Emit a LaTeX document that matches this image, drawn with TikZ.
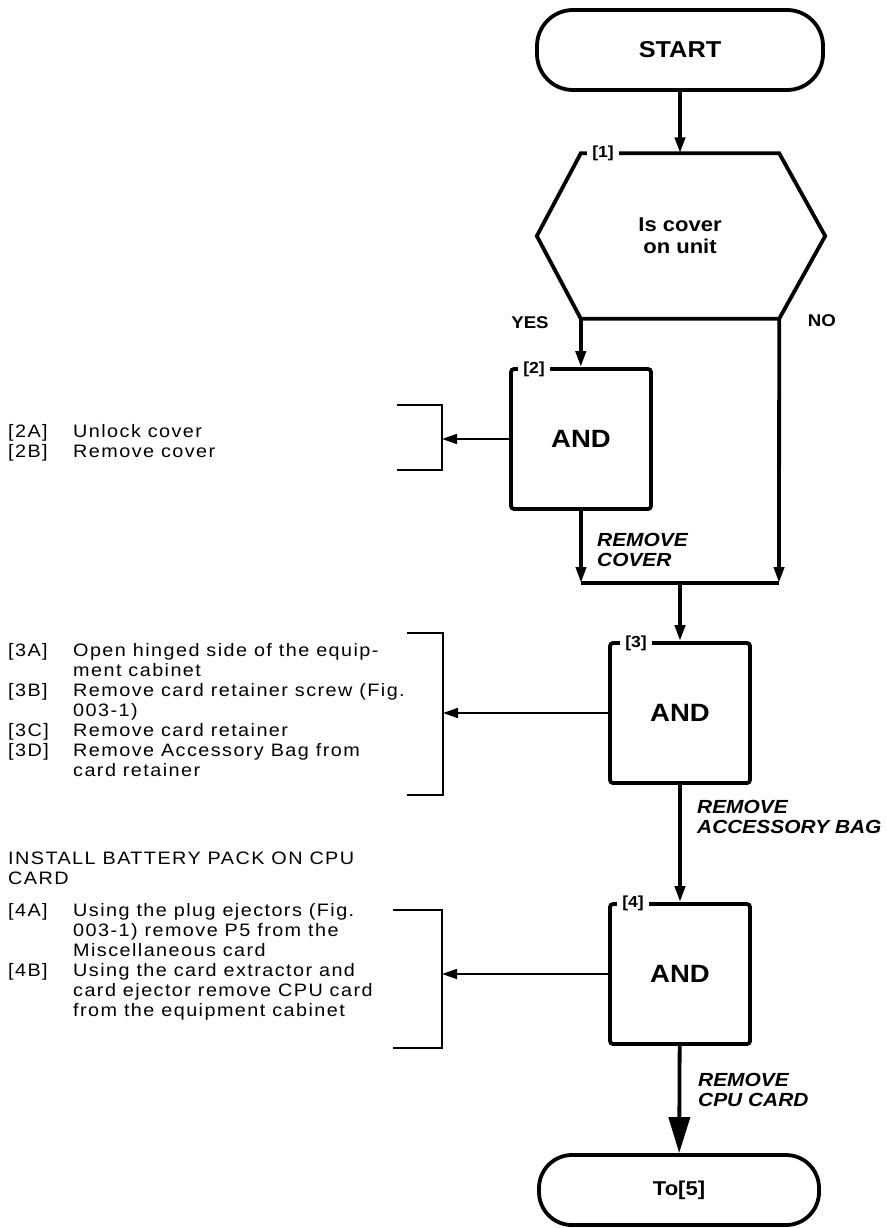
\documentclass[tikz,border=0pt]{standalone}
\usepackage{fontspec}
\setmainfont{Liberation Sans}[FakeStretch=1.1]
\newfontfamily\descfont{Liberation Sans}[FakeStretch=1.1,LetterSpace=8]
\usetikzlibrary{arrows.meta}

\newcommand\tagrow[2]{\makebox[65pt][l]{#1}#2}
\newcommand\controw[1]{\hspace*{65pt}#1}

\begin{document}
\begin{tikzpicture}[x=1pt, y=-1pt,
    flow/.style={line width=3.8pt, -{Triangle[length=16pt, width=10pt]}},
    bigflow/.style={line width=3.8pt, -{Triangle[length=36pt, width=21pt]}},
    side/.style={line width=1.7pt},
    sidearrow/.style={line width=1.7pt, -{Triangle[length=15pt, width=10pt]}},
    andbox/.style={draw, line width=3.8pt, rounded corners=3pt,
        minimum width=140pt, minimum height=140pt,
        font=\bfseries\fontsize{25}{28}\selectfont},
    term/.style={draw, line width=3.8pt, rounded corners=36pt,
        minimum width=286pt, minimum height=80pt},
    num/.style={fill=white, inner xsep=5pt, inner ysep=1pt,
        font=\bfseries\fontsize{16}{18}\selectfont},
    desc/.style={anchor=west, align=left, inner sep=0pt,
        font=\descfont\fontsize{18}{20}\selectfont},
    act/.style={anchor=west, align=left, inner sep=0pt,
        font=\bfseries\itshape\fontsize{19}{20}\selectfont}]

    \useasboundingbox (0,0) rectangle (886,1228);

    \node[term, font=\bfseries\fontsize{23}{28}\selectfont] (start) at (680,50) {START};
    \node[align=center, minimum width=198pt, minimum height=165pt,
        font=\bfseries\fontsize{20}{22}\selectfont] (q1) at (680,236) {Is cover\\on unit};
    \draw[line width=3.8pt] (q1.north west) -- (q1.north east) -- ([xshift=46pt]q1.east)
        -- (q1.south east) -- (q1.south west) -- ([xshift=-44pt]q1.west) -- cycle;

    \node[andbox] (b2) at (581,439) {AND};
    \node[andbox] (b3) at (680,713) {AND};
    \node[andbox] (b4) at (680,974) {AND};
    \node[term, minimum width=280pt, minimum height=70pt, rounded corners=33pt,
        font=\bfseries\fontsize{20}{24}\selectfont] (end) at (679,1190) {To[5]};

    \coordinate (mrg) at (779,583);
    \coordinate (k2) at (442,439);
    \coordinate (k3) at (443,713);
    \coordinate (k4) at (442,974);

    \draw[flow] (start) -- (q1);
    \draw[flow] (q1.south west) -- (q1.south west |- b2.north);
    \draw[flow] (q1.south east) -- (mrg);
    \draw[flow] (b2.south) -- (b2.south |- mrg);
    \draw[line width=3.8pt] (b2.south |- mrg) -- (mrg);
    \draw[flow] (b3.north |- mrg) -- (b3.north);
    \draw[flow] (b3) -- (b4);
    \draw[bigflow] (b4) -- (end);

    \draw[sidearrow] (b2) -- (k2);
    \draw[sidearrow] (b3) -- (k3);
    \draw[sidearrow] (b4) -- (k4);
    \draw[side] (397,405) -- (442,405) -- (442,470) -- (397,470);
    \draw[side] (407,633) -- (443,633) -- (443,795) -- (407,795);
    \draw[side] (393,910) -- (442,910) -- (442,1048) -- (393,1048);

    \node[num] (n1) at (603,153) {[1]};
    \node[num] (n2) at (534,369) {[2]};
    \node[num] (n3) at (636,643) {[3]};
    \node[num] (n4) at (633,903) {[4]};

    \node[font=\bfseries\fontsize{17}{20}\selectfont] (yes) at (530,323) {YES};
    \node[font=\bfseries\fontsize{17}{20}\selectfont] (no) at (822,321) {NO};

    \node[act] (rc) at (597,550) {REMOVE\\COVER};
    \node[act] (rab) at (697,817) {REMOVE\\ACCESSORY BAG};
    \node[act] (rcc) at (698,1090) {REMOVE\\CPU CARD};

    \node[desc] (d2) at (8,443) {\tagrow{[2A]}{Unlock cover}\\
        \tagrow{[2B]}{Remove cover}};
    \node[desc] (d3) at (8,710) {\tagrow{[3A]}{Open hinged side of the equip-}\\
        \controw{ment cabinet}\\
        \tagrow{[3B]}{Remove card retainer screw (Fig.}\\
        \controw{003-1)}\\
        \tagrow{[3C]}{Remove card retainer}\\
        \tagrow{[3D]}{Remove Accessory Bag from}\\
        \controw{card retainer}};
    \node[desc] (inst) at (8,868) {INSTALL BATTERY PACK ON CPU\\CARD};
    \node[desc] (d4) at (8,962) {\tagrow{[4A]}{Using the plug ejectors (Fig.}\\
        \controw{003-1) remove P5 from the}\\
        \controw{Miscellaneous card}\\
        \tagrow{[4B]}{Using the card extractor and}\\
        \controw{card ejector remove CPU card}\\
        \controw{from the equipment cabinet}};
\end{tikzpicture}
\end{document}
